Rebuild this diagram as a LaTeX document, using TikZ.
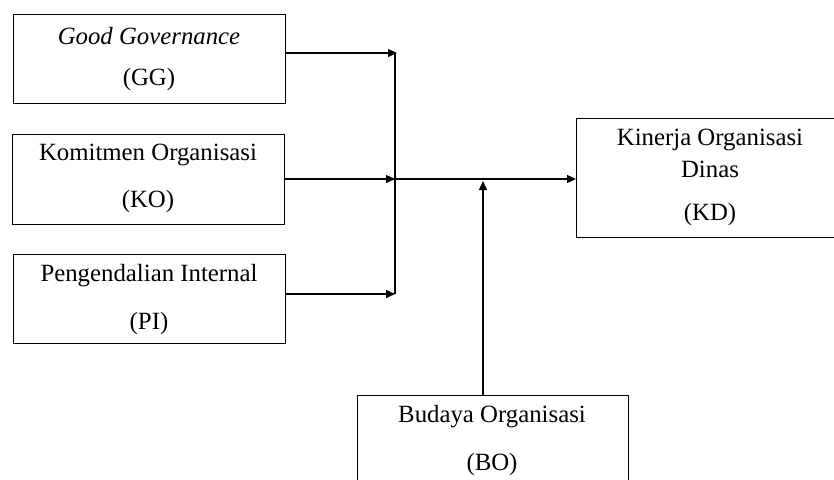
\documentclass[tikz,border=0pt]{standalone}
\usepackage{fontspec}
\setmainfont{Liberation Serif}
\usetikzlibrary{arrows.meta}
\begin{document}
\begin{tikzpicture}[x=1pt,y=-1pt,
  box/.style={draw=black,line width=1.2pt,rectangle,inner sep=0pt,anchor=north west},
  lbl/.style={inner sep=0pt,font=\fontsize{24.8}{29}\selectfont},
  arr/.style={line width=1.3pt,-{Triangle[length=9pt,width=8pt]}},
  ln/.style={line width=1.3pt}]
\useasboundingbox (0,0) rectangle (834,479);
\clip (0,0) rectangle (834,479);
% boxes
\node[box,minimum width=272pt,minimum height=89pt] (GG) at (13,14) {};
\node[box,minimum width=272pt,minimum height=90pt] (KO) at (12,134) {};
\node[box,minimum width=272pt,minimum height=89pt] (PI) at (13,254) {};
\node[box,minimum width=270pt,minimum height=119pt] (KD) at (576,118) {};
\node[box,minimum width=271pt,minimum height=100pt] (BO) at (357,395) {};
% labels
\node[lbl] (GGa) at (149,36) {\itshape Good Governance};
\node[lbl] (GGb) at (149,80) {(GG)};
\node[lbl] (KOa) at (148,155) {Komitmen Organisasi};
\node[lbl] (KOb) at (148,202) {(KO)};
\node[lbl] (PIa) at (149,276) {Pengendalian Internal};
\node[lbl] (PIb) at (149,324) {(PI)};
\node[lbl] (KDa) at (710,140) {Kinerja Organisasi};
\node[lbl] (KDb) at (710,169) {Dinas};
\node[lbl] (KDc) at (710,215) {(KD)};
\node[lbl] (BOa) at (492,417) {Budaya Organisasi};
\node[lbl] (BOb) at (492,465) {(BO)};
% junction points
\coordinate (J1) at (395,53);
\coordinate (J) at (395,179);
\coordinate (J3) at (395,294);
\coordinate (B) at (483,181);
% connectors
\draw[ln] (J1) -- (J3);
\draw[arr] (GG.east |- J1) -- ([xshift=2pt]J1);
\draw[arr] (KO.east |- J) -- (J);
\draw[arr] (PI.east |- J3) -- (J3);
\draw[arr] (J) -- (KD.west |- J);
\draw[arr] (BO.north -| B) -- (B);
\end{tikzpicture}
\end{document}
